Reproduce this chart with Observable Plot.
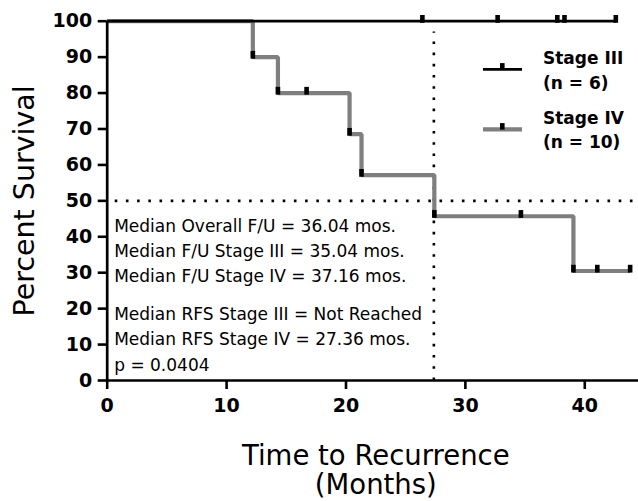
<!DOCTYPE html>
<html><head><meta charset="utf-8">
<script src="https://cdn.jsdelivr.net/npm/d3@7"></script>
<script src="https://cdn.jsdelivr.net/npm/@observablehq/plot@0.6"></script>
<style>
body{margin:0;background:#fff;}
#wrap{position:relative;width:638px;height:501px;overflow:hidden;}
#overlay{position:absolute;left:0;top:0;pointer-events:none;}
#wrap svg text{font-family:"DejaVu Sans",sans-serif;}
g[aria-label="y-axis tick label"] text, g[aria-label="x-axis tick label"] text{font-weight:bold;}
</style></head><body><div id="wrap"></div>
<script>
// Stage III (n = 6): no events, all censored
const stageIIITimes = [0, 42.6];
const stageIIISurv = [100, 100];
const stageIIICensorTimes = [26.4, 32.7, 37.7, 38.3, 42.6];

// Stage IV (n = 10): Kaplan–Meier steps
const stageIVTimes = [0, 12.2, 14.3, 16.7, 20.3, 21.3, 27.4, 34.65, 39.05, 41.05, 43.8];
const stageIVSurv  = [100, 90, 80, 80, 68.57, 57.14, 45.71, 45.71, 30.48, 30.48, 30.48];
const stageIVKind  = ["start","event","event","censor","event","event","event","censor","event","censor","censor"];

const medianSurvival = 50;
const medianRFSStageIV = 27.36;
const xTicks = [0, 10, 20, 30, 40];
const yTicks = [0, 10, 20, 30, 40, 50, 60, 70, 80, 90, 100];
const xDomain = [0, 44.5];
const yDomain = [0, 100];

const notesBlock1 = ["Median Overall F/U = 36.04 mos.", "Median F/U Stage III = 35.04 mos.", "Median F/U Stage IV = 37.16 mos."];
const notesBlock2 = ["Median RFS Stage III = Not Reached", "Median RFS Stage IV = 27.36 mos.", "p = 0.0404"];
const legendLabels = [["Stage III", "(n = 6)"], ["Stage IV", "(n = 10)"]];
const seriesColors = ["#000000", "#7f7f7f"];

const stageIII = stageIIITimes.map((t, i) => ({t, s: stageIIISurv[i]}));
const stageIIIMarks = stageIIICensorTimes.map(t => ({t, s: 100}));
const stageIV = stageIVTimes.map((t, i) => ({t, s: stageIVSurv[i], k: stageIVKind[i]}));
const stageIVMarks = stageIV.filter(d => d.k !== "start");

const tickSymbol = {draw(ctx) { ctx.moveTo(-2.3, -6.2); ctx.lineTo(2.3, -6.2); ctx.lineTo(2.3, 1.6); ctx.lineTo(-2.3, 1.6); ctx.closePath(); }};

const chart = Plot.plot({
  width: 638, height: 501,
  marginLeft: 106.7, marginRight: 0, marginTop: 20.7, marginBottom: 121,
  style: {fontFamily: "DejaVu Sans", fontSize: "17px", color: "black", background: "white", overflow: "visible"},
  x: {domain: xDomain},
  y: {domain: yDomain},
  marks: [
    Plot.ruleY([medianSurvival], {x1: xDomain[0], x2: xDomain[1], stroke: "black", strokeWidth: 2.6, strokeDasharray: "2.6 8.6", strokeDashoffset: -8}),
    Plot.ruleX([medianRFSStageIV], {y1: 0, y2: 97, stroke: "black", strokeWidth: 2.6, strokeDasharray: "2.6 8.6"}),
    Plot.line(stageIV, {x: "t", y: "s", curve: "step-after", stroke: seriesColors[1], strokeWidth: 4.2, strokeLinejoin: "miter", strokeLinecap: "butt"}),
    Plot.line(stageIII, {x: "t", y: "s", curve: "step-after", stroke: seriesColors[0], strokeWidth: 2.8, strokeLinejoin: "miter", strokeLinecap: "butt"}),
    Plot.dot(stageIVMarks, {x: "t", y: "s", symbol: tickSymbol, fill: "black", stroke: null, r: 3}),
    Plot.dot(stageIIIMarks, {x: "t", y: "s", symbol: tickSymbol, fill: "black", stroke: null, r: 3}),
    Plot.ruleX([xDomain[0]], {y1: yDomain[0], y2: yDomain[1], stroke: "black", strokeWidth: 2.7}),
    Plot.ruleY([yDomain[0]], {x1: xDomain[0], x2: xDomain[1], stroke: "black", strokeWidth: 2.7}),
    Plot.axisY({ticks: yTicks, tickSize: 9, tickPadding: 6, strokeWidth: 2.6, label: null, fontSize: 19, fontWeight: "bold"}),
    Plot.axisX({ticks: xTicks, tickSize: 9, tickPadding: 8.5, strokeWidth: 2.6, label: null, fontSize: 19, fontWeight: "bold"}),
    Plot.text([notesBlock1.join("\n")], {frameAnchor: "top-left", dx: 7, dy: 260.3, textAnchor: "start", lineAnchor: "bottom", lineHeight: 1.47, fontSize: 17, fill: "black"}),
    Plot.text([notesBlock2.join("\n")], {frameAnchor: "top-left", dx: 7, dy: 349.3, textAnchor: "start", lineAnchor: "bottom", lineHeight: 1.5, fontSize: 17, fill: "black"}),
    Plot.text(["Percent Survival"], {frameAnchor: "left", dx: -82.7, rotate: -90, textAnchor: "middle", lineAnchor: "middle", fontSize: 28.5, fill: "black"}),
    Plot.text(["Time to Recurrence\n(Months)"], {frameAnchor: "bottom", dx: 3, dy: 113, textAnchor: "middle", lineAnchor: "bottom", lineHeight: 1.05, fontSize: 27.5, fill: "black"})
  ]
});
const wrap = document.getElementById("wrap");
wrap.appendChild(chart);

// legend overlay
const ov = d3.select(wrap).append("svg").attr("id", "overlay").attr("width", 638).attr("height", 501);
const legRows = [{y: 69.3, w: 2.8, c: seriesColors[0], t1: 64, t2: 89, lab: legendLabels[0]}, {y: 129.3, w: 4.2, c: seriesColors[1], t1: 124, t2: 148, lab: legendLabels[1]}];
for (const r of legRows) {
  ov.append("line").attr("x1", 483).attr("x2", 522).attr("y1", r.y).attr("y2", r.y).attr("stroke", r.c).attr("stroke-width", r.w);
  ov.append("rect").attr("x", 500).attr("y", r.y - 6.2).attr("width", 4.6).attr("height", 6.5).attr("fill", "black");
  ov.append("text").attr("x", 543).attr("y", r.t1).attr("font-size", 17).attr("font-weight", "bold").attr("fill", "black").text(r.lab[0]);
  ov.append("text").attr("x", 543).attr("y", r.t2).attr("font-size", 17).attr("font-weight", "bold").attr("fill", "black").text(r.lab[1]);
}
</script></body></html>
